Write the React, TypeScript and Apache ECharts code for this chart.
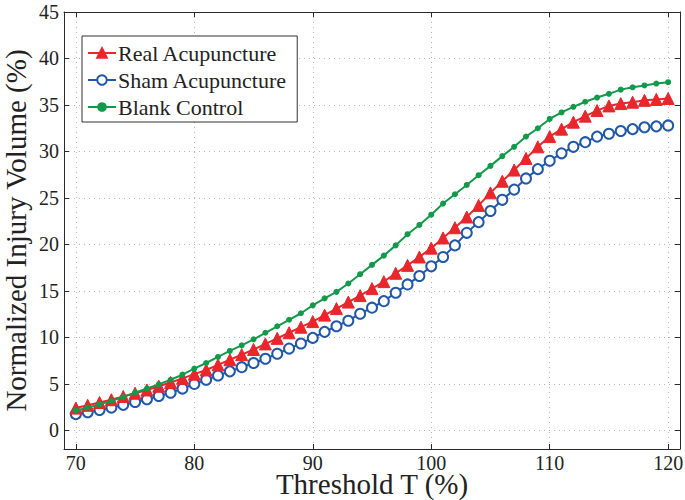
import React, { useEffect, useRef } from "react";
import * as echarts from "echarts";

const thresholds: number[] = [
  70, 71, 72, 73, 74, 75, 76, 77, 78, 79, 80, 81, 82, 83, 84, 85, 86, 87, 88, 89,
  90, 91, 92, 93, 94, 95, 96, 97, 98, 99, 100, 101, 102, 103, 104, 105, 106, 107,
  108, 109, 110, 111, 112, 113, 114, 115, 116, 117, 118, 119, 120,
];

const realAcupuncture: number[] = [
  2.4, 2.7, 3.0, 3.3, 3.65, 4.0, 4.35, 4.75, 5.15, 5.6, 6.05, 6.5, 7.05, 7.6, 8.15,
  8.7, 9.3, 9.9, 10.5, 11.1, 11.7, 12.4, 13.1, 13.8, 14.5, 15.25, 16.0, 16.9, 17.75,
  18.65, 19.6, 20.7, 21.8, 22.95, 24.2, 25.55, 26.8, 28.0, 29.25, 30.5, 31.6, 32.4,
  33.15, 33.8, 34.4, 34.9, 35.15, 35.3, 35.5, 35.6, 35.7,
];

const shamAcupuncture: number[] = [
  1.75, 1.95, 2.2, 2.45, 2.75, 3.05, 3.35, 3.7, 4.05, 4.5, 5.0, 5.45, 5.9, 6.35, 6.8,
  7.25, 7.7, 8.25, 8.8, 9.35, 9.95, 10.6, 11.2, 11.8, 12.55, 13.2, 13.9, 14.8, 15.7,
  16.6, 17.65, 18.65, 19.9, 21.25, 22.4, 23.6, 24.8, 25.9, 27.1, 28.1, 29.0, 29.8,
  30.5, 31.0, 31.6, 31.9, 32.2, 32.4, 32.6, 32.7, 32.8,
];

const blankControl: number[] = [
  2.15, 2.45, 2.8, 3.15, 3.6, 4.05, 4.5, 4.95, 5.45, 6.0, 6.65, 7.25, 7.9, 8.55, 9.15,
  9.8, 10.5, 11.2, 11.9, 12.6, 13.45, 14.2, 14.9, 15.8, 16.8, 17.8, 18.8, 19.9, 21.1,
  22.1, 23.2, 24.4, 25.4, 26.4, 27.45, 28.45, 29.5, 30.5, 31.6, 32.5, 33.5, 34.2,
  34.8, 35.35, 35.8, 36.2, 36.65, 36.9, 37.1, 37.3, 37.45,
];

const seriesNames: string[] = ["Real Acupuncture", "Sham Acupuncture", "Blank Control"];

const FONT = "'Liberation Serif', 'Times New Roman', serif";
const AXIS_COLOR = "#2a2a2a";
const TEXT_COLOR = "#222222";

export default function App() {
  const ref = useRef<HTMLDivElement | null>(null);

  useEffect(() => {
    if (!ref.current) return;
    const chart = echarts.init(ref.current, undefined, { renderer: "svg" });

    const pair = (vals: number[]) => thresholds.map((t, i) => [t, vals[i]]);

    const splitLine = {
      show: true,
      lineStyle: { color: "#b5b5b5", type: [1, 4] as any, width: 1 },
    };

    chart.setOption({
      animation: false,
      backgroundColor: "#ffffff",
      textStyle: { fontFamily: FONT, color: TEXT_COLOR },
      grid: {
        left: 64,
        top: 12,
        right: 5,
        bottom: 51,
        containLabel: false,
        outerBoundsMode: "none",
      },
      legend: {
        orient: "vertical",
        left: 82,
        top: 36,
        padding: [6, 10, 4, 5],
        itemGap: 5,
        itemWidth: 28,
        itemHeight: 12,
        backgroundColor: "#ffffff",
        borderColor: "#333333",
        borderWidth: 1,
        borderRadius: 0,
        textStyle: {
          fontFamily: FONT,
          fontSize: 22,
          lineHeight: 22,
          color: TEXT_COLOR,
          padding: [0, 0, 0, -3],
        },
        data: seriesNames,
      },
      xAxis: [
        {
          type: "value",
          min: 69,
          max: 121,
          splitNumber: 5,
          minInterval: 10,
          maxInterval: 10,
          position: "bottom",
          name: "Threshold T (%)",
          nameLocation: "middle",
          nameGap: 25,
          nameMoveOverlap: false,
          nameTextStyle: {
            fontFamily: FONT,
            fontSize: 29,
            lineHeight: 20,
            color: TEXT_COLOR,
            verticalAlign: "top",
          },
          axisLine: { show: true, onZero: false, lineStyle: { color: AXIS_COLOR, width: 1 } },
          axisTick: { show: true, inside: true, length: 5, lineStyle: { color: AXIS_COLOR } },
          axisLabel: {
            fontFamily: FONT,
            fontSize: 20,
            lineHeight: 14,
            color: TEXT_COLOR,
            margin: 7,
            formatter: (v: number) => (v % 10 === 0 ? String(v) : ""),
          },
          splitLine,
        },
        {
          type: "value",
          min: 69,
          max: 121,
          splitNumber: 5,
          minInterval: 10,
          maxInterval: 10,
          position: "top",
          axisLine: { show: true, onZero: false, lineStyle: { color: AXIS_COLOR, width: 1 } },
          axisTick: { show: true, inside: true, length: 5, lineStyle: { color: AXIS_COLOR } },
          axisLabel: { show: false },
          splitLine: { show: false },
        },
      ],
      yAxis: [
        {
          type: "value",
          min: -2,
          max: 45,
          splitNumber: 10,
          minInterval: 5,
          maxInterval: 5,
          position: "left",
          name: "Normalized Injury Volume (%)",
          nameLocation: "middle",
          nameGap: 34,
          nameMoveOverlap: false,
          nameTextStyle: { fontFamily: FONT, fontSize: 29, color: TEXT_COLOR },
          axisLine: { show: true, onZero: false, lineStyle: { color: AXIS_COLOR, width: 1 } },
          axisTick: { show: true, inside: true, length: 5, lineStyle: { color: AXIS_COLOR } },
          axisLabel: {
            fontFamily: FONT,
            fontSize: 20,
            color: TEXT_COLOR,
            margin: 5,
            formatter: (v: number) => (v % 5 === 0 ? String(v) : ""),
          },
          splitLine,
        },
        {
          type: "value",
          min: -2,
          max: 45,
          splitNumber: 10,
          minInterval: 5,
          maxInterval: 5,
          position: "right",
          axisLine: { show: true, onZero: false, lineStyle: { color: AXIS_COLOR, width: 1 } },
          axisTick: { show: true, inside: true, length: 5, lineStyle: { color: AXIS_COLOR } },
          axisLabel: { show: false },
          splitLine: { show: false },
        },
      ],
      series: [
        {
          name: seriesNames[0],
          type: "line",
          xAxisIndex: 0,
          yAxisIndex: 0,
          data: pair(realAcupuncture),
          symbol: "triangle",
          symbolSize: 12,
          lineStyle: { color: "#e8262b", width: 2 },
          itemStyle: { color: "#e8262b", borderColor: "#e8262b", borderWidth: 1 },
          z: 3,
        },
        {
          name: seriesNames[1],
          type: "line",
          xAxisIndex: 0,
          yAxisIndex: 0,
          data: pair(shamAcupuncture),
          symbol: "emptyCircle",
          symbolSize: 10,
          lineStyle: { color: "#2258a8", width: 2 },
          itemStyle: { color: "#2258a8", borderColor: "#2258a8", borderWidth: 2.2 },
          z: 2,
        },
        {
          name: seriesNames[2],
          type: "line",
          xAxisIndex: 0,
          yAxisIndex: 0,
          data: pair(blankControl),
          symbol: "circle",
          symbolSize: 6,
          lineStyle: { color: "#129a4a", width: 2 },
          itemStyle: { color: "#129a4a" },
          z: 4,
        },
      ],
    });

    return () => chart.dispose();
  }, []);

  return (
    <div
      ref={ref}
      style={{ position: "fixed", left: 0, top: 0, width: 685, height: 500, background: "#fff" }}
    />
  );
}
